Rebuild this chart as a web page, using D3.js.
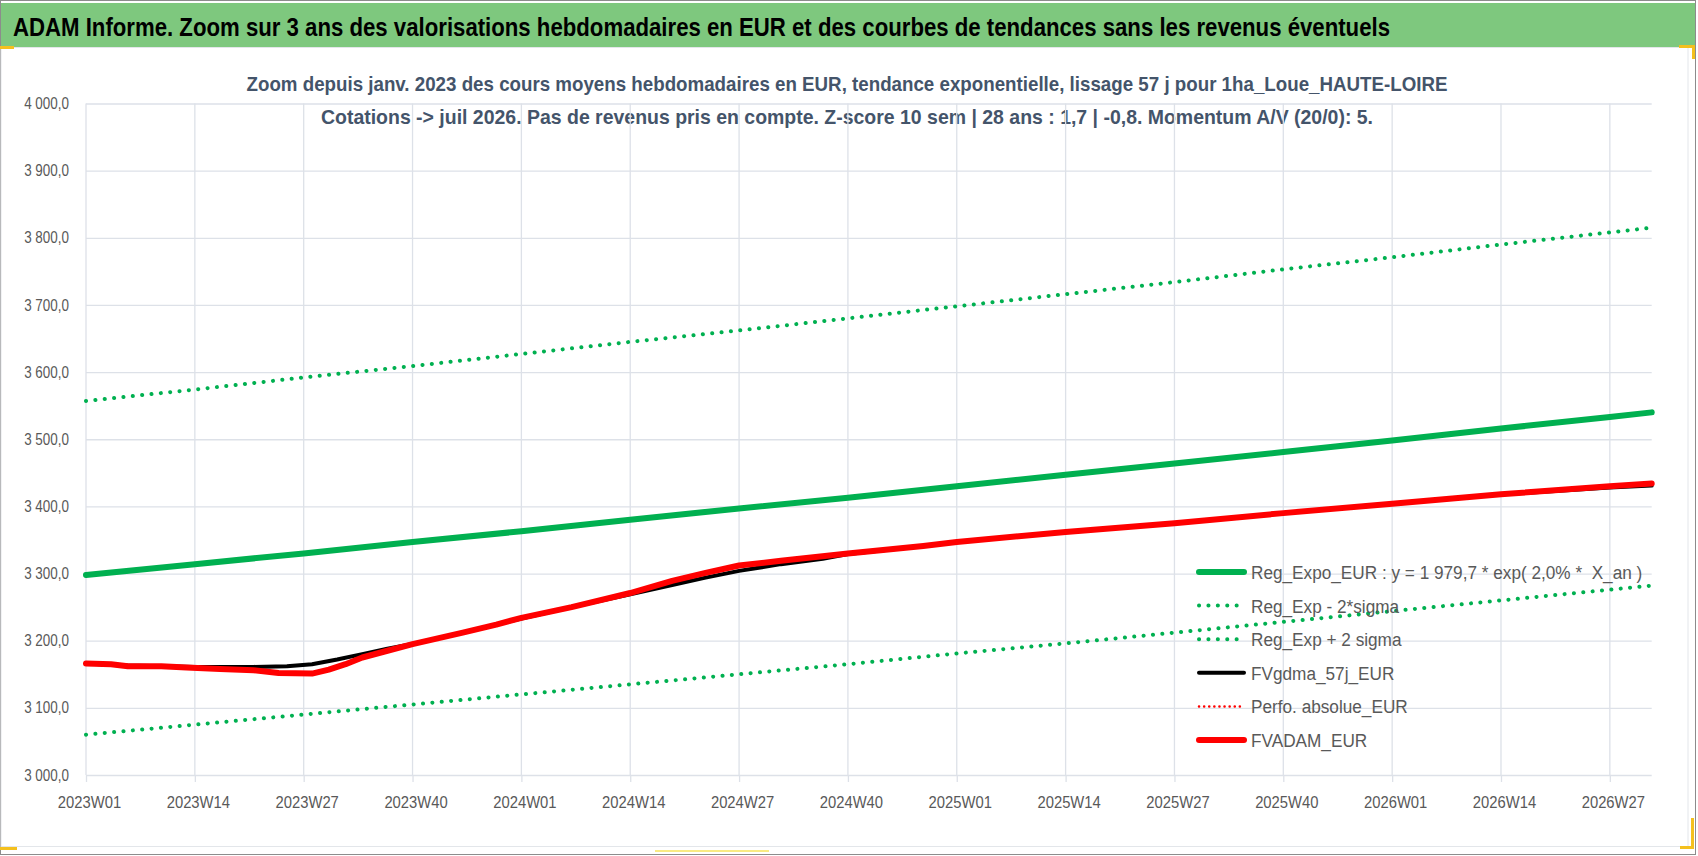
<!DOCTYPE html>
<html>
<head>
<meta charset="utf-8">
<script src="https://cdn.jsdelivr.net/npm/d3@7"></script>
<style>
  body { margin: 0; background: #fff; }
  svg text { font-family: "Liberation Sans", Arial, sans-serif; }
</style>
</head>
<body>
<div id="chart"></div>
<script>
// texts
const mainTitle = "ADAM Informe. Zoom sur 3 ans des valorisations hebdomadaires en EUR et des courbes de tendances sans les revenus éventuels";
const subTitle = [
  "Zoom depuis janv. 2023 des cours moyens hebdomadaires en EUR, tendance exponentielle, lissage 57 j pour 1ha_Loue_HAUTE-LOIRE",
  "Cotations -> juil 2026. Pas de revenus pris en compte. Z-score 10 sem | 28 ans : 1,7 | -0,8. Momentum A/V (20/0): 5."
];

// category axis: one label every 13 weeks, last week shown is 2026W32
const tickLabels = ["2023W01","2023W14","2023W27","2023W40","2024W01","2024W14","2024W27","2024W40",
                    "2025W01","2025W14","2025W27","2025W40","2026W01","2026W14","2026W27"];
const firstWeek = "2023W01", lastWeek = "2026W32";
const yTicks = [3000,3100,3200,3300,3400,3500,3600,3700,3800,3900,4000];

// series values (week, EUR)
const regExpo = [["2023W01",3298],["2023W14",3314],["2023W27",3330],["2023W40",3347],["2024W01",3363],
  ["2024W14",3380],["2024W27",3397],["2024W40",3413],["2025W01",3430],["2025W14",3447],["2025W27",3464],
  ["2025W40",3481],["2026W01",3498],["2026W14",3516],["2026W27",3533],["2026W32",3540]];
const regMinus = [["2023W01",3557],["2023W14",3574],["2023W27",3592],["2023W40",3609],["2024W01",3627],
  ["2024W14",3645],["2024W27",3662],["2024W40",3680],["2025W01",3698],["2025W14",3716],["2025W27",3734],
  ["2025W40",3753],["2026W01",3771],["2026W14",3790],["2026W27",3808],["2026W32",3815]];
const regPlus = [["2023W01",3060],["2023W14",3075],["2023W27",3090],["2023W40",3105],["2024W01",3120],
  ["2024W14",3135],["2024W27",3150],["2024W40",3165],["2025W01",3181],["2025W14",3196],["2025W27",3212],
  ["2025W40",3228],["2026W01",3244],["2026W14",3260],["2026W27",3276],["2026W32",3282]];
const fvGdma = [["2023W01",3166],["2023W06",3163],["2023W14",3161],["2023W21",3161],["2023W25",3162],
  ["2023W28",3165],["2023W31",3172],["2023W34",3180],["2023W37",3188],["2023W40",3195],["2023W46",3212],
  ["2023W50",3224],["2024W01",3233],["2024W07",3250],["2024W14",3269],["2024W19",3283],["2024W23",3294],
  ["2024W27",3304],["2024W32",3314],["2024W37",3322],["2024W40",3329],["2024W49",3341],["2025W01",3347],
  ["2025W14",3362],["2025W27",3375],["2025W40",3390],["2026W01",3404],["2026W14",3418],["2026W27",3428],
  ["2026W32",3431]];
const perfoAbs = []; // present in the legend only
const fvAdam = [["2023W01",3166],["2023W04",3165],["2023W06",3162],["2023W10",3162],["2023W13",3160],
  ["2023W17",3158],["2023W21",3156],["2023W24",3152],["2023W28",3151],["2023W30",3157],["2023W32",3165],
  ["2023W34",3175],["2023W37",3185],["2023W40",3195],["2023W46",3212],["2023W50",3224],["2024W01",3234],
  ["2024W07",3250],["2024W14",3271],["2024W19",3289],["2024W23",3301],["2024W27",3312],["2024W32",3319],
  ["2024W40",3330],["2024W49",3341],["2025W01",3347],["2025W14",3362],["2025W27",3375],["2025W40",3390],
  ["2026W01",3404],["2026W14",3418],["2026W27",3430],["2026W32",3434]];

// week label -> position on the category axis (2023-2025 have 52 ISO weeks)
const weekIndex = w => (+w.slice(0, 4) - 2023) * 52 + (+w.slice(5) - 1);

// squeeze the text horizontally, closer to the narrow Calibri of the original
function condense(sel, k) {
  sel.each(function () {
    const len = this.getComputedTextLength();
    d3.select(this).attr("textLength", len * k).attr("lengthAdjust", "spacingAndGlyphs");
  });
}

const W = 1698, H = 856;
const svg = d3.select("#chart").append("svg").attr("width", W).attr("height", H);

// frame
svg.append("rect").attr("x", 0.5).attr("y", 0.5).attr("width", 1695).attr("height", 854)
  .attr("fill", "#fff").attr("stroke", "#8c8c8c");
svg.append("rect").attr("x", 1).attr("y", 47.5).attr("width", 1687).attr("height", 799)
  .attr("fill", "none").attr("stroke", "#e3e6ea");
svg.append("rect").attr("x", 1).attr("y", 3).attr("width", 1694).attr("height", 44).attr("fill", "#7ec87e");
svg.append("text").attr("x", 13).attr("y", 36).attr("font-size", 26).attr("font-weight", "bold")
  .attr("fill", "#000").attr("textLength", 1377).attr("lengthAdjust", "spacingAndGlyphs").text(mainTitle);

// excel selection handles
const handles = [[0,46,14,3],[1679,45,16,3],[1692,45,3,14],[1680,846,14,3],[1691,818,3,31],[0,847,17,3]];
svg.selectAll("rect.hd").data(handles).enter().append("rect").attr("class", "hd")
  .attr("x", d => d[0]).attr("y", d => d[1]).attr("width", d => d[2]).attr("height", d => d[3])
  .attr("fill", "#f4c01e");
svg.append("line").attr("x1", 655).attr("x2", 769).attr("y1", 851).attr("y2", 851)
  .attr("stroke", "#f7e35a").attr("stroke-width", 1.5);

// subtitle
const subWidth = [1201, 1052];
svg.selectAll("text.sub").data(subTitle).enter().append("text").attr("class", "sub")
  .attr("x", 847).attr("y", (d, i) => 91 + i * 33).attr("text-anchor", "middle")
  .attr("font-size", 21).attr("font-weight", "bold").attr("fill", "#44546a")
  .attr("textLength", (d, i) => subWidth[i]).attr("lengthAdjust", "spacingAndGlyphs").text(d => d);

const x = d3.scaleLinear().domain([weekIndex(firstWeek), weekIndex(lastWeek)]).range([86, 1651.7]);
const y = d3.scaleLinear().domain([3000, 4000]).range([775, 103.5]);
const fr = d3.formatLocale({ decimal: ",", thousands: " ", grouping: [3], currency: ["", "€"] }).format(",.1f");

// gridlines + axes
svg.append("g").attr("transform", "translate(86,0)")
  .call(d3.axisLeft(y).tickValues(yTicks).tickSize(-(1651.7 - 86)).tickFormat(fr))
  .call(g => g.select(".domain").remove())
  .call(g => g.selectAll(".tick line").attr("stroke", "#dde1e8").attr("stroke-width", 1.3))
  .call(g => g.selectAll(".tick text").attr("x", -17).attr("fill", "#595959").attr("font-size", 16).call(condense, 0.84));

svg.append("g").attr("transform", "translate(0,775)")
  .call(d3.axisBottom(x).tickValues(tickLabels.map(weekIndex)).tickSize(7)
    .tickFormat((d, i) => tickLabels[i]))
  .call(g => g.select(".domain").remove())
  .call(g => g.selectAll(".tick line").attr("stroke", "#dde1e8").attr("stroke-width", 1.3))
  .call(g => g.selectAll(".tick text").attr("x", 3).attr("y", 21).attr("fill", "#595959").attr("font-size", 17).call(condense, 0.87));
svg.append("g").selectAll("line").data(tickLabels.map(weekIndex)).enter().append("line")
  .attr("x1", d => x(d)).attr("x2", d => x(d)).attr("y1", 103.5).attr("y2", 775)
  .attr("stroke", "#dde1e8").attr("stroke-width", 1.3);

// series
const line = d3.line().x(d => x(weekIndex(d[0]))).y(d => y(d[1]));
const series = [
  { name: "Reg_Expo_EUR : y = 1 979,7 * exp( 2,0% *  X_an )", data: regExpo, color: "#00b050", width: 6, dash: null },
  { name: "Reg_Exp - 2*sigma", data: regMinus, color: "#00b050", width: 4, dash: "0.1 9.3" },
  { name: "Reg_Exp + 2 sigma", data: regPlus, color: "#00b050", width: 4, dash: "0.1 9.3" },
  { name: "FVgdma_57j_EUR", data: fvGdma, color: "#000000", width: 4, dash: null },
  { name: "Perfo. absolue_EUR", data: perfoAbs, color: "#ff0000", width: 2.5, dash: "0.1 5" },
  { name: "FVADAM_EUR", data: fvAdam, color: "#ff0000", width: 6, dash: null }
];
const drawOrder = [1, 2, 0, 3, 4, 5];
svg.append("g").selectAll("path").data(drawOrder.map(i => series[i]).filter(s => s.data.length)).enter()
  .append("path")
  .attr("d", s => line(s.data))
  .attr("fill", "none")
  .attr("stroke", s => s.color)
  .attr("stroke-width", s => s.width)
  .attr("stroke-linecap", "round")
  .attr("stroke-linejoin", "round")
  .attr("stroke-dasharray", s => s.dash);

// legend
const leg = svg.append("g").selectAll("g").data(series).enter().append("g")
  .attr("transform", (d, i) => `translate(1197,${572 + i * 33.6})`);
leg.append("line").attr("x1", 2).attr("x2", 47).attr("y1", 0).attr("y2", 0)
  .attr("stroke", s => s.color)
  .attr("stroke-width", s => s.width)
  .attr("stroke-linecap", "round")
  .attr("stroke-dasharray", s => s.dash);
leg.append("text").attr("x", 54).attr("y", 7).attr("font-size", 18).attr("fill", "#595959")
  .style("white-space", "pre")
  .text(s => s.name).call(condense, 0.955);
</script>
</body>
</html>
